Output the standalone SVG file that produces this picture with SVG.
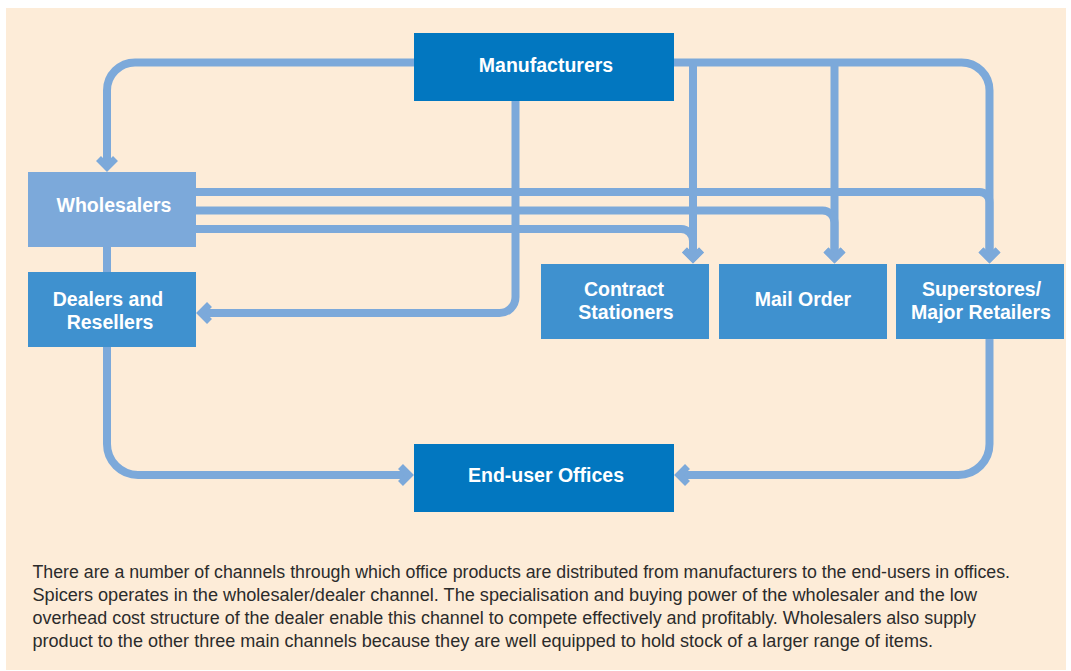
<svg xmlns="http://www.w3.org/2000/svg" width="1071" height="671" viewBox="0 0 1071 671">
<style>
.bg{fill:#FDECD8}
.dark{fill:#0277C0}
.mid{fill:#3F91CF}
.light{fill:#7CA9DA}
.lbl{font-family:"Liberation Sans",Arial,sans-serif;font-weight:bold;font-size:19.5px;fill:#FFFFFF;text-anchor:middle}
.con{fill:none;stroke:#7CA9DA;stroke-width:8}
.body{font-family:"Liberation Sans",Arial,sans-serif;font-size:17.5px;fill:#2B2B2B}
</style>
<defs>
<marker id="ah" markerUnits="userSpaceOnUse" orient="auto" viewBox="-14 -14 28 28" refX="0" refY="0" markerWidth="28" markerHeight="28" overflow="visible">
<path d="M-8.5,-8.5 L0,0 L-8.5,8.5" fill="none" stroke="#7CA9DA" stroke-width="7" stroke-linejoin="miter"/>
</marker>
</defs>
<rect x="0" y="0" width="1071" height="671" fill="#FFFFFF"/>
<rect class="bg" x="6" y="8" width="1060" height="662"/>

<g id="connectors">
<path class="con" d="M414,62.5 H135 A28,28 0 0 0 107,90.5 V167" marker-end="url(#ah)"/>
<path class="con" d="M674,62.5 H961.5 A28,28 0 0 1 989.5,90.5 V258.5" marker-end="url(#ah)"/>
<path class="con" d="M693,62.5 V258.5" marker-end="url(#ah)"/>
<path class="con" d="M834.5,62.5 V258.5" marker-end="url(#ah)"/>
<path class="con" d="M515.5,100 V297 A16,16 0 0 1 499.5,313 H201" marker-end="url(#ah)"/>
<path class="con" d="M195,192 H979.5 A10,10 0 0 1 989.5,202 V258.5" marker-end="url(#ah)"/>
<path class="con" d="M195,210.5 H822.5 A12,12 0 0 1 834.5,222.5 V258.5" marker-end="url(#ah)"/>
<path class="con" d="M195,229 H681 A12,12 0 0 1 693,241 V258.5" marker-end="url(#ah)"/>
<path class="con" d="M107,246 V273"/>
<path class="con" d="M107,346 V444 A31,31 0 0 0 138,475 H409" marker-end="url(#ah)"/>
<path class="con" d="M989.5,338 V444 A31,31 0 0 1 958.5,475 H679" marker-end="url(#ah)"/>
</g>

<g id="manufacturers">
<rect class="dark" x="414" y="33" width="260" height="68"/>
<text class="lbl" x="546" y="72">Manufacturers</text>
</g>
<g id="wholesalers">
<rect class="light" x="28" y="172" width="168" height="75"/>
<text class="lbl" x="114" y="212">Wholesalers</text>
</g>
<g id="dealers">
<rect class="mid" x="28" y="272" width="168" height="75"/>
<text class="lbl" x="108" y="306">Dealers and</text>
<text class="lbl" x="110" y="328.5">Resellers</text>
</g>
<g id="contract-stationers">
<rect class="mid" x="541" y="264" width="168" height="75"/>
<text class="lbl" x="624" y="296">Contract</text>
<text class="lbl" x="626" y="318.5">Stationers</text>
</g>
<g id="mail-order">
<rect class="mid" x="719" y="264" width="168" height="75"/>
<text class="lbl" x="803" y="305.5">Mail Order</text>
</g>
<g id="superstores">
<rect class="mid" x="896" y="264" width="168" height="75"/>
<text class="lbl" x="981.5" y="296">Superstores/</text>
<text class="lbl" x="981" y="318.5">Major Retailers</text>
</g>
<g id="end-user">
<rect class="dark" x="414" y="444" width="260" height="68"/>
<text class="lbl" x="546" y="482">End-user Offices</text>
</g>

<g id="caption">
<text class="body" x="32.5" y="578" textLength="977.5" lengthAdjust="spacingAndGlyphs">There are a number of channels through which office products are distributed from manufacturers to the end-users in offices.</text>
<text class="body" x="32.5" y="601" textLength="944.5" lengthAdjust="spacingAndGlyphs">Spicers operates in the wholesaler/dealer channel. The specialisation and buying power of the wholesaler and the low</text>
<text class="body" x="32.5" y="624" textLength="943.5" lengthAdjust="spacingAndGlyphs">overhead cost structure of the dealer enable this channel to compete effectively and profitably. Wholesalers also supply</text>
<text class="body" x="32.5" y="647" textLength="900.5" lengthAdjust="spacingAndGlyphs">product to the other three main channels because they are well equipped to hold stock of a larger range of items.</text>
</g>
</svg>
